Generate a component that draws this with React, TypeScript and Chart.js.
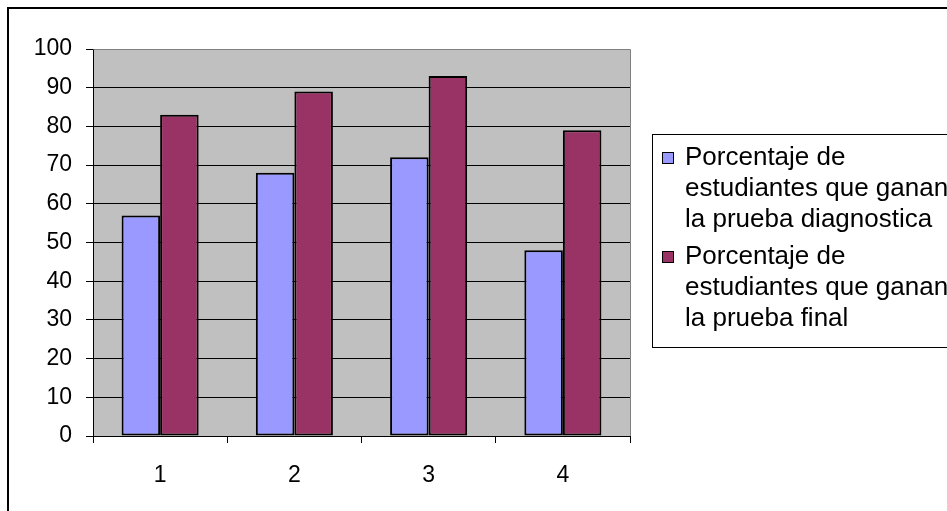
import React, { useEffect, useRef } from "react";
import { Chart, registerables } from "chart.js";

Chart.register(...registerables);

// Categories along the x axis
const categories = ["1", "2", "3", "4"];

// Percentage of students who pass each test
const diagnosticValues = [57, 68, 72, 48];
const finalValues = [83, 89, 93, 79];

// Series names (legend text, wrapped in lines)
const diagnosticLabel = ["Porcentaje de", "estudiantes que ganan", "la prueba diagnostica"];
const finalLabel = ["Porcentaje de", "estudiantes que ganan", "la prueba final"];

// Y axis range
const yMin = 0;
const yMax = 100;
const yStep = 10;

const BLUE = "#9999FF";
const PLUM = "#993366";
const PLOT_BG = "#C0C0C0";
const FONT = '"Liberation Sans", Arial, sans-serif';

const framePlugin = {
  id: "excelFrame",
  beforeDraw(chart: any) {
    const { ctx, chartArea } = chart;
    ctx.save();
    ctx.fillStyle = "#ffffff";
    ctx.fillRect(0, 0, chart.width, chart.height);
    ctx.fillStyle = PLOT_BG;
    ctx.fillRect(chartArea.left, chartArea.top, chartArea.right - chartArea.left, chartArea.bottom - chartArea.top);
    ctx.restore();
  },
  afterDraw(chart: any) {
    const { ctx, chartArea } = chart;
    ctx.save();
    // plot area outline (top and right edges)
    ctx.strokeStyle = "#808080";
    ctx.lineWidth = 1;
    ctx.beginPath();
    ctx.moveTo(Math.round(chartArea.left) + 0.5, Math.round(chartArea.top) + 0.5);
    ctx.lineTo(Math.round(chartArea.right) + 0.5, Math.round(chartArea.top) + 0.5);
    ctx.lineTo(Math.round(chartArea.right) + 0.5, Math.round(chartArea.bottom));
    ctx.stroke();

    // outer chart frame
    ctx.strokeStyle = "#000000";
    ctx.lineWidth = 2;
    ctx.strokeRect(8, 8, chart.width + 20, chart.height + 20);

    // legend box
    const boxX = 652;
    const boxY = 134;
    ctx.lineWidth = 1;
    ctx.strokeStyle = "#000000";
    ctx.strokeRect(boxX + 0.5, boxY + 0.5, chart.width, 213);

    const entries = [
      { color: BLUE, lines: diagnosticLabel },
      { color: PLUM, lines: finalLabel },
    ];
    ctx.font = "26px " + FONT;
    ctx.textBaseline = "middle";
    ctx.textAlign = "left";
    const lineH = 31;
    let y = 158;
    entries.forEach((e) => {
      ctx.fillStyle = e.color;
      ctx.fillRect(662, y - 6, 12, 12);
      ctx.strokeStyle = "#000000";
      ctx.lineWidth = 1;
      ctx.strokeRect(662.5, y - 5.5, 11, 11);
      ctx.fillStyle = "#000000";
      e.lines.forEach((line, i) => {
        ctx.fillText(line, 685, y + i * lineH);
      });
      y += lineH * e.lines.length + 6;
    });
    ctx.restore();
  },
};

export default function App() {
  const canvasRef = useRef<HTMLCanvasElement | null>(null);

  useEffect(() => {
    if (!canvasRef.current) return;
    const chart = new Chart(canvasRef.current, {
      type: "bar",
      data: {
        labels: categories,
        datasets: [
          {
            label: diagnosticLabel.join(" "),
            data: diagnosticValues,
            backgroundColor: BLUE,
            borderColor: "#000000",
            borderWidth: 2,
            borderSkipped: false,
          },
          {
            label: finalLabel.join(" "),
            data: finalValues,
            backgroundColor: PLUM,
            borderColor: "#000000",
            borderWidth: 2,
            borderSkipped: false,
          },
        ],
      },
      options: {
        responsive: false,
        animation: false,
        layout: { padding: { left: 0, top: 49, right: 317, bottom: 0 } },
        datasets: { bar: { categoryPercentage: 0.574, barPercentage: 1 } },
        plugins: {
          legend: { display: false },
          tooltip: { enabled: false },
        },
        scales: {
          x: {
            offset: true,
            grid: {
              offset: true,
              drawOnChartArea: false,
              drawTicks: true,
              tickLength: 7,
              tickColor: "#000000",
              color: "#000000",
            },
            border: { display: true, color: "#000000", width: 1 },
            ticks: { color: "#000000", font: { family: FONT, size: 23 }, padding: 19 },
            afterFit(scale: any) {
              scale.height = 75;
            },
          },
          y: {
            min: yMin,
            max: yMax,
            ticks: {
              stepSize: yStep,
              color: "#000000",
              font: { family: FONT, size: 23 },
              padding: 14,
            },
            grid: {
              color: "#000000",
              lineWidth: 1,
              tickLength: 7,
              tickColor: "#000000",
            },
            border: { display: true, color: "#000000", width: 1 },
            afterFit(scale: any) {
              scale.width = 93;
            },
          },
        },
      },
      plugins: [framePlugin],
    });
    return () => chart.destroy();
  }, []);

  return (
    <canvas
      ref={canvasRef}
      width={947}
      height={511}
      style={{ position: "absolute", left: 0, top: 0, display: "block" }}
    />
  );
}
